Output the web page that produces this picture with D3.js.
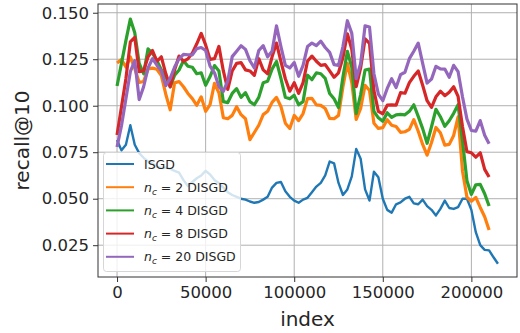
<!DOCTYPE html>
<html>
<head>
<meta charset="utf-8">
<script src="https://cdn.jsdelivr.net/npm/d3@7"></script>
<style>
  html, body { margin: 0; padding: 0; background: #fff; }
  svg text { font-family: "DejaVu Sans", sans-serif; }
</style>
</head>
<body>
<div class="chart"></div>
<script>
// sample spacing along the index axis
const step = 2500;

const xTicks = [0, 50000, 100000, 150000, 200000];
const yTicks = [0.025, 0.050, 0.075, 0.100, 0.125, 0.150];

const isgd = [
  0.0816, 0.0760, 0.0790, 0.0895, 0.0790, 0.0745, 0.0720, 0.0700, 0.0690, 0.0672,
  0.0665, 0.0668, 0.0660, 0.0650, 0.0640, 0.0600, 0.0568, 0.0590, 0.0610, 0.0625,
  0.0650, 0.0630, 0.0600, 0.0585, 0.0560, 0.0535, 0.0520, 0.0510, 0.0500, 0.0495,
  0.0485, 0.0478, 0.0482, 0.0495, 0.0510, 0.0560, 0.0585, 0.0590, 0.0540, 0.0510,
  0.0490, 0.0478, 0.0495, 0.0505, 0.0535, 0.0565, 0.0585, 0.0625, 0.0700, 0.0690,
  0.0585, 0.0520, 0.0550, 0.0620, 0.0768, 0.0715, 0.0550, 0.0490, 0.0645, 0.0615,
  0.0500, 0.0440, 0.0425, 0.0470, 0.0480, 0.0500, 0.0510, 0.0475, 0.0470, 0.0495,
  0.0460, 0.0440, 0.0410, 0.0445, 0.0490, 0.0450, 0.0445, 0.0455, 0.0500, 0.0500,
  0.0440, 0.0320, 0.0250, 0.0225, 0.0222, 0.0185, 0.0150
];

const nc2 = [
  0.1230, 0.1248, 0.1208, 0.1262, 0.1200, 0.1125, 0.1130, 0.1198, 0.1202, 0.1196,
  0.1162, 0.1062, 0.0978, 0.1123, 0.1130, 0.1102, 0.1066, 0.1038, 0.1002, 0.1048,
  0.0970, 0.1006, 0.1120, 0.1070, 0.0936, 0.0930, 0.0948, 0.0995, 0.0952, 0.0930,
  0.0818, 0.0856, 0.0895, 0.0952, 0.0970, 0.1018, 0.1045, 0.0996, 0.0906, 0.0878,
  0.0948, 0.0920, 0.0958, 0.1038, 0.1040, 0.1005, 0.1002, 0.0985, 0.0932, 0.0930,
  0.0948, 0.1102, 0.1228, 0.1124, 0.0926, 0.0985, 0.1110, 0.1082, 0.0906, 0.0878,
  0.0882, 0.0925, 0.0895, 0.0888, 0.0857, 0.0860, 0.0873, 0.0925, 0.0863, 0.0792,
  0.0734, 0.0802, 0.0883, 0.0855, 0.0788, 0.0792, 0.0840, 0.0940, 0.0648, 0.0508,
  0.0486, 0.0507, 0.0453, 0.0403, 0.0332
];

const nc4 = [
  0.1106, 0.1228, 0.1350, 0.1466, 0.1392, 0.1227, 0.1172, 0.1306, 0.1282, 0.1242,
  0.1192, 0.1157, 0.1102, 0.1164, 0.1192, 0.1242, 0.1212, 0.1207, 0.1172, 0.1177,
  0.1110, 0.1157, 0.1216, 0.1187, 0.1022, 0.1017, 0.1066, 0.1092, 0.1045, 0.1070,
  0.1022, 0.1005, 0.1045, 0.1124, 0.1132, 0.1197, 0.1238, 0.1147, 0.1045, 0.1037,
  0.1056, 0.1005, 0.1022, 0.1164, 0.1140, 0.1177, 0.1172, 0.1147, 0.1066, 0.1037,
  0.0990, 0.1154, 0.1292, 0.1207, 0.0958, 0.1060, 0.1192, 0.1197, 0.0970, 0.0935,
  0.0916, 0.0962, 0.0937, 0.0951, 0.0953, 0.0951, 0.0970, 0.1005, 0.0943, 0.0877,
  0.0798, 0.0887, 0.0981, 0.0941, 0.0889, 0.0919, 0.0959, 0.1005, 0.0809, 0.0597,
  0.0523, 0.0575, 0.0577, 0.0527, 0.0461
];

const nc8 = [
  0.0843, 0.0993, 0.1145, 0.1343, 0.1367, 0.1183, 0.1187, 0.1263, 0.1297, 0.1239,
  0.1263, 0.1173, 0.1102, 0.1193, 0.1267, 0.1238, 0.1252, 0.1283, 0.1333, 0.1389,
  0.1327, 0.1249, 0.1253, 0.1319, 0.1187, 0.1088, 0.1187, 0.1228, 0.1232, 0.1193,
  0.1187, 0.1163, 0.1253, 0.1193, 0.1172, 0.1263, 0.1337, 0.1239, 0.1145, 0.1078,
  0.1124, 0.1067, 0.1124, 0.1239, 0.1267, 0.1239, 0.1217, 0.1221, 0.1187, 0.1153,
  0.1177, 0.1259, 0.1387, 0.1303, 0.1102, 0.1203, 0.1360, 0.1335, 0.1081, 0.0970,
  0.0957, 0.1003, 0.1005, 0.1003, 0.1070, 0.1067, 0.1124, 0.1158, 0.1187, 0.1110,
  0.1027, 0.0991, 0.1048, 0.1078, 0.1054, 0.1073, 0.1102, 0.1050, 0.0887, 0.0753,
  0.0747, 0.0723, 0.0747, 0.0658, 0.0617
];

const nc20 = [
  0.0778, 0.0893, 0.1037, 0.1183, 0.1242, 0.1033, 0.1102, 0.1203, 0.1253, 0.1218,
  0.1187, 0.1108, 0.1147, 0.1208, 0.1252, 0.1276, 0.1274, 0.1273, 0.1307, 0.1313,
  0.1297, 0.1213, 0.1177, 0.1103, 0.1077, 0.1133, 0.1264, 0.1293, 0.1323, 0.1303,
  0.1242, 0.1203, 0.1297, 0.1323, 0.1263, 0.1293, 0.1430, 0.1318, 0.1217, 0.1203,
  0.1232, 0.1158, 0.1217, 0.1318, 0.1337, 0.1323, 0.1347, 0.1313, 0.1287, 0.1221,
  0.1217, 0.1318, 0.1457, 0.1389, 0.1145, 0.1228, 0.1430, 0.1423, 0.1172, 0.1063,
  0.1027, 0.1093, 0.1145, 0.1098, 0.1167, 0.1180, 0.1253, 0.1293, 0.1337, 0.1228,
  0.1122, 0.1143, 0.1212, 0.1198, 0.1197, 0.1153, 0.1217, 0.1183, 0.1047, 0.0928,
  0.0867, 0.0863, 0.0920, 0.0841, 0.0795
];

const seriesNames = ['ISGD', '2', '4', '8', '20'];
const seriesColors = ['#1f77b4', '#ff7f0e', '#2ca02c', '#d62728', '#9467bd'];
const allSeries = [isgd, nc2, nc4, nc8, nc20];

const W = 520, H = 333;
const plot = { left: 98, right: 517, top: 4, bottom: 277 };

const svg = d3.select('.chart')
  .append('svg')
  .attr('width', W)
  .attr('height', H);

const x = d3.scaleLinear().domain([-10750, 225750]).range([plot.left, plot.right]);
const y = d3.scaleLinear().domain([0.0079, 0.1547]).range([plot.bottom, plot.top]);

// grid
const grid = svg.append('g');
grid.selectAll('.gx').data(xTicks).enter().append('line')
  .attr('x1', d => x(d)).attr('x2', d => x(d))
  .attr('y1', plot.top).attr('y2', plot.bottom)
  .attr('stroke', '#b0b0b0').attr('stroke-width', 1);
grid.selectAll('.gy').data(yTicks).enter().append('line')
  .attr('x1', plot.left).attr('x2', plot.right)
  .attr('y1', d => y(d)).attr('y2', d => y(d))
  .attr('stroke', '#b0b0b0').attr('stroke-width', 1);

// lines
svg.append('clipPath').attr('id', 'clip')
  .append('rect')
  .attr('x', plot.left).attr('y', plot.top)
  .attr('width', plot.right - plot.left).attr('height', plot.bottom - plot.top);

const line = d3.line()
  .x((d, i) => x(i * step))
  .y(d => y(d));

const lines = svg.append('g').attr('clip-path', 'url(#clip)');
allSeries.forEach((s, i) => {
  lines.append('path')
    .datum(s)
    .attr('fill', 'none')
    .attr('stroke', seriesColors[i])
    .attr('stroke-width', i === 0 ? 2.4 : 3.2)
    .attr('stroke-linejoin', 'round')
    .attr('d', line);
});

// axes
const xAxis = svg.append('g')
  .attr('transform', `translate(0,${plot.bottom})`)
  .call(d3.axisBottom(x).tickValues(xTicks).tickFormat(d3.format('d')).tickSize(5).tickPadding(4));
const yAxis = svg.append('g')
  .attr('transform', `translate(${plot.left},0)`)
  .call(d3.axisLeft(y).tickValues(yTicks).tickFormat(d3.format('.3f')).tickSize(5).tickPadding(4));
[xAxis, yAxis].forEach(a => {
  a.select('.domain').remove();
  a.selectAll('line').attr('stroke', '#333');
  a.selectAll('text')
    .attr('fill', '#262626')
    .style('font-size', '16.5px');
});

// frame
svg.append('rect')
  .attr('x', plot.left).attr('y', plot.top)
  .attr('width', plot.right - plot.left).attr('height', plot.bottom - plot.top)
  .attr('fill', 'none').attr('stroke', '#333').attr('stroke-width', 1);

// axis labels
svg.append('text')
  .text('index')
  .attr('x', (plot.left + plot.right) / 2)
  .attr('y', 326)
  .attr('text-anchor', 'middle')
  .attr('fill', '#262626')
  .style('font-size', '20px');
svg.append('text')
  .text('recall@10')
  .attr('transform', `translate(29,${(plot.top + plot.bottom) / 2}) rotate(-90)`)
  .attr('text-anchor', 'middle')
  .attr('fill', '#262626')
  .style('font-size', '20px');

// legend
const legend = svg.append('g');
legend.append('rect')
  .attr('x', 103.5).attr('y', 152.5)
  .attr('width', 137).attr('height', 119)
  .attr('rx', 3)
  .attr('fill', '#fff').attr('fill-opacity', 0.8)
  .attr('stroke', '#d6d6d6').attr('stroke-width', 1);

const rows = legend.selectAll('.row')
  .data(seriesNames)
  .enter()
  .append('g')
  .attr('transform', (d, i) => `translate(0,${164 + i * 23.2})`);
rows.append('line')
  .attr('x1', 106).attr('x2', 134)
  .attr('stroke', (d, i) => seriesColors[i])
  .attr('stroke-width', 2);
const labels = rows.append('text')
  .attr('x', 144)
  .attr('y', 4.5)
  .attr('fill', '#262626')
  .style('font-size', '12.5px');
labels.each(function(d, i) {
  const t = d3.select(this);
  if (i === 0) { t.text(d); return; }
  t.append('tspan').text('n').style('font-style', 'italic');
  t.append('tspan').text('c').style('font-style', 'italic')
    .style('font-size', '9px').attr('dy', 3);
  t.append('tspan').text(' = ' + d + ' DISGD').attr('dy', -3);
});
</script>
</body>
</html>
